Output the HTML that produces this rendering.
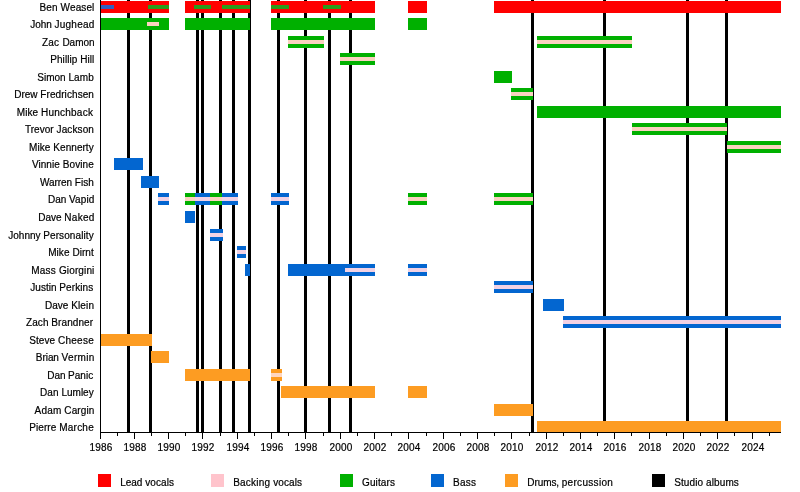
<!DOCTYPE html>
<html lang="en"><head><meta charset="utf-8"><title>Timeline</title>
<style>
html,body{margin:0;padding:0;background:#fff;}
#c{position:relative;width:800px;height:492px;overflow:hidden;background:#fff;font-family:"Liberation Sans",sans-serif;color:#000;-webkit-text-stroke:0.2px #000;}
#c div{position:absolute;}
.n{right:705.5px;font-size:10px;letter-spacing:0.12px;line-height:12px;height:12px;white-space:nowrap;text-align:right;}
.t{font-size:10px;letter-spacing:0.2px;line-height:12px;height:12px;width:40px;text-align:center;white-space:nowrap;}
.l{font-size:10px;letter-spacing:0.13px;line-height:12px;height:12px;white-space:nowrap;}
</style></head><body><div id="c">

<div style="left:127px;top:0px;width:3px;height:432px;background:#000"></div>
<div style="left:149px;top:0px;width:3px;height:432px;background:#000"></div>
<div style="left:196px;top:0px;width:3px;height:432px;background:#000"></div>
<div style="left:201px;top:0px;width:3px;height:432px;background:#000"></div>
<div style="left:219px;top:0px;width:3px;height:432px;background:#000"></div>
<div style="left:232px;top:0px;width:3px;height:432px;background:#000"></div>
<div style="left:248px;top:0px;width:3px;height:432px;background:#000"></div>
<div style="left:277px;top:0px;width:3px;height:432px;background:#000"></div>
<div style="left:304px;top:0px;width:3px;height:432px;background:#000"></div>
<div style="left:328px;top:0px;width:3px;height:432px;background:#000"></div>
<div style="left:349px;top:0px;width:3px;height:432px;background:#000"></div>
<div style="left:531px;top:0px;width:3px;height:432px;background:#000"></div>
<div style="left:603px;top:0px;width:3px;height:432px;background:#000"></div>
<div style="left:686px;top:0px;width:3px;height:432px;background:#000"></div>
<div style="left:725px;top:0px;width:3px;height:432px;background:#000"></div>
<div style="left:101px;top:1px;width:68px;height:12px;background:#ff0000"></div>
<div style="left:185px;top:1px;width:65px;height:12px;background:#ff0000"></div>
<div style="left:271px;top:1px;width:104px;height:12px;background:#ff0000"></div>
<div style="left:408px;top:1px;width:19px;height:12px;background:#ff0000"></div>
<div style="left:494px;top:1px;width:287px;height:12px;background:#ff0000"></div>
<div style="left:101px;top:18px;width:68px;height:12px;background:#00b000"></div>
<div style="left:185px;top:18px;width:65px;height:12px;background:#00b000"></div>
<div style="left:271px;top:18px;width:104px;height:12px;background:#00b000"></div>
<div style="left:408px;top:18px;width:19px;height:12px;background:#00b000"></div>
<div style="left:288px;top:36px;width:36px;height:12px;background:#00b000"></div>
<div style="left:537px;top:36px;width:95px;height:12px;background:#00b000"></div>
<div style="left:340px;top:53px;width:35px;height:12px;background:#00b000"></div>
<div style="left:494px;top:71px;width:18px;height:12px;background:#00b000"></div>
<div style="left:511px;top:88px;width:22px;height:12px;background:#00b000"></div>
<div style="left:537px;top:106px;width:244px;height:12px;background:#00b000"></div>
<div style="left:632px;top:123px;width:95px;height:12px;background:#00b000"></div>
<div style="left:727px;top:141px;width:54px;height:12px;background:#00b000"></div>
<div style="left:114px;top:158px;width:29px;height:12px;background:#0366d0"></div>
<div style="left:141px;top:176px;width:18px;height:12px;background:#0366d0"></div>
<div style="left:158px;top:193px;width:11px;height:12px;background:#0366d0"></div>
<div style="left:185px;top:193px;width:9.5px;height:12px;background:#00b000"></div>
<div style="left:194.5px;top:193px;width:15.5px;height:12px;background:#0366d0"></div>
<div style="left:210px;top:193px;width:12px;height:12px;background:#00b000"></div>
<div style="left:222px;top:193px;width:16px;height:12px;background:#0366d0"></div>
<div style="left:271px;top:193px;width:18px;height:12px;background:#0366d0"></div>
<div style="left:408px;top:193px;width:19px;height:12px;background:#00b000"></div>
<div style="left:494px;top:193px;width:39px;height:12px;background:#00b000"></div>
<div style="left:185px;top:211px;width:10px;height:12px;background:#0366d0"></div>
<div style="left:210px;top:229px;width:13px;height:12px;background:#0366d0"></div>
<div style="left:237px;top:246px;width:9px;height:12px;background:#0366d0"></div>
<div style="left:245px;top:264px;width:5px;height:12px;background:#0366d0"></div>
<div style="left:288px;top:264px;width:87px;height:12px;background:#0366d0"></div>
<div style="left:408px;top:264px;width:19px;height:12px;background:#0366d0"></div>
<div style="left:494px;top:281px;width:39px;height:12px;background:#0366d0"></div>
<div style="left:543px;top:299px;width:21px;height:12px;background:#0366d0"></div>
<div style="left:563px;top:316px;width:218px;height:12px;background:#0366d0"></div>
<div style="left:101px;top:334px;width:51px;height:12px;background:#fd9c22"></div>
<div style="left:151px;top:351px;width:18px;height:12px;background:#fd9c22"></div>
<div style="left:185px;top:369px;width:65px;height:12px;background:#fd9c22"></div>
<div style="left:271px;top:369px;width:11px;height:12px;background:#fd9c22"></div>
<div style="left:281px;top:386px;width:94px;height:12px;background:#fd9c22"></div>
<div style="left:408px;top:386px;width:19px;height:12px;background:#fd9c22"></div>
<div style="left:494px;top:404px;width:39px;height:12px;background:#fd9c22"></div>
<div style="left:537px;top:421px;width:244px;height:12px;background:#fd9c22"></div>
<div style="left:101px;top:5.1px;width:13px;height:3.8px;background:#3060c0"></div>
<div style="left:148px;top:5.1px;width:21px;height:3.8px;background:#2a9c1c"></div>
<div style="left:194.2px;top:5.1px;width:16.4px;height:3.8px;background:#2a9c1c"></div>
<div style="left:222px;top:5.1px;width:28px;height:3.8px;background:#2a9c1c"></div>
<div style="left:271px;top:5.1px;width:18px;height:3.8px;background:#2a9c1c"></div>
<div style="left:323px;top:5.1px;width:18px;height:3.8px;background:#2a9c1c"></div>
<div style="left:147px;top:22.1px;width:12px;height:3.8px;background:#fad2c0"></div>
<div style="left:288px;top:40.1px;width:36px;height:3.8px;background:#fad2c0"></div>
<div style="left:537px;top:40.1px;width:95px;height:3.8px;background:#fad2c0"></div>
<div style="left:340px;top:57.1px;width:35px;height:3.8px;background:#fad2c0"></div>
<div style="left:511px;top:92.1px;width:22px;height:3.8px;background:#fad2c0"></div>
<div style="left:632px;top:127.1px;width:95px;height:3.8px;background:#fad2c0"></div>
<div style="left:727px;top:145.1px;width:54px;height:3.8px;background:#fad2c0"></div>
<div style="left:158px;top:197.1px;width:11px;height:3.8px;background:#f2d2e4"></div>
<div style="left:185px;top:197.1px;width:9.5px;height:3.8px;background:#fad2c0"></div>
<div style="left:194.5px;top:197.1px;width:15.5px;height:3.8px;background:#f2d2e4"></div>
<div style="left:210px;top:197.1px;width:12px;height:3.8px;background:#fad2c0"></div>
<div style="left:222px;top:197.1px;width:16px;height:3.8px;background:#f2d2e4"></div>
<div style="left:271px;top:197.1px;width:18px;height:3.8px;background:#f2d2e4"></div>
<div style="left:408px;top:197.1px;width:19px;height:3.8px;background:#fad2c0"></div>
<div style="left:494px;top:197.1px;width:39px;height:3.8px;background:#fad2c0"></div>
<div style="left:210px;top:233.1px;width:13px;height:3.8px;background:#f2d2e4"></div>
<div style="left:237px;top:250.1px;width:9px;height:3.8px;background:#f2d2e4"></div>
<div style="left:345px;top:268.1px;width:30px;height:3.8px;background:#f2d2e4"></div>
<div style="left:408px;top:268.1px;width:19px;height:3.8px;background:#f2d2e4"></div>
<div style="left:494px;top:285.1px;width:39px;height:3.8px;background:#f2d2e4"></div>
<div style="left:563px;top:320.1px;width:218px;height:3.8px;background:#f2d2e4"></div>
<div style="left:271px;top:373.1px;width:11px;height:3.8px;background:#ffd6c0"></div>
<div style="left:100px;top:0px;width:1px;height:433px;background:#000"></div>
<div style="left:100px;top:432px;width:681px;height:1px;background:#000"></div>
<div style="left:100px;top:432px;width:1px;height:7px;background:#000"></div>
<div class="t" style="left:80.95px;top:442px">1986</div>
<div style="left:117px;top:432px;width:1px;height:4px;background:#000"></div>
<div style="left:134px;top:432px;width:1px;height:7px;background:#000"></div>
<div class="t" style="left:114.95px;top:442px">1988</div>
<div style="left:151px;top:432px;width:1px;height:4px;background:#000"></div>
<div style="left:168px;top:432px;width:1px;height:7px;background:#000"></div>
<div class="t" style="left:148.95px;top:442px">1990</div>
<div style="left:185px;top:432px;width:1px;height:4px;background:#000"></div>
<div style="left:202px;top:432px;width:1px;height:7px;background:#000"></div>
<div class="t" style="left:182.95px;top:442px">1992</div>
<div style="left:220px;top:432px;width:1px;height:4px;background:#000"></div>
<div style="left:237px;top:432px;width:1px;height:7px;background:#000"></div>
<div class="t" style="left:217.95px;top:442px">1994</div>
<div style="left:254px;top:432px;width:1px;height:4px;background:#000"></div>
<div style="left:271px;top:432px;width:1px;height:7px;background:#000"></div>
<div class="t" style="left:251.95px;top:442px">1996</div>
<div style="left:288px;top:432px;width:1px;height:4px;background:#000"></div>
<div style="left:305px;top:432px;width:1px;height:7px;background:#000"></div>
<div class="t" style="left:285.95px;top:442px">1998</div>
<div style="left:323px;top:432px;width:1px;height:4px;background:#000"></div>
<div style="left:340px;top:432px;width:1px;height:7px;background:#000"></div>
<div class="t" style="left:320.95px;top:442px">2000</div>
<div style="left:357px;top:432px;width:1px;height:4px;background:#000"></div>
<div style="left:374px;top:432px;width:1px;height:7px;background:#000"></div>
<div class="t" style="left:354.95px;top:442px">2002</div>
<div style="left:391px;top:432px;width:1px;height:4px;background:#000"></div>
<div style="left:408px;top:432px;width:1px;height:7px;background:#000"></div>
<div class="t" style="left:388.95px;top:442px">2004</div>
<div style="left:426px;top:432px;width:1px;height:4px;background:#000"></div>
<div style="left:443px;top:432px;width:1px;height:7px;background:#000"></div>
<div class="t" style="left:423.95px;top:442px">2006</div>
<div style="left:460px;top:432px;width:1px;height:4px;background:#000"></div>
<div style="left:477px;top:432px;width:1px;height:7px;background:#000"></div>
<div class="t" style="left:457.95px;top:442px">2008</div>
<div style="left:494px;top:432px;width:1px;height:4px;background:#000"></div>
<div style="left:511px;top:432px;width:1px;height:7px;background:#000"></div>
<div class="t" style="left:491.95px;top:442px">2010</div>
<div style="left:529px;top:432px;width:1px;height:4px;background:#000"></div>
<div style="left:546px;top:432px;width:1px;height:7px;background:#000"></div>
<div class="t" style="left:526.95px;top:442px">2012</div>
<div style="left:563px;top:432px;width:1px;height:4px;background:#000"></div>
<div style="left:580px;top:432px;width:1px;height:7px;background:#000"></div>
<div class="t" style="left:560.95px;top:442px">2014</div>
<div style="left:597px;top:432px;width:1px;height:4px;background:#000"></div>
<div style="left:614px;top:432px;width:1px;height:7px;background:#000"></div>
<div class="t" style="left:594.95px;top:442px">2016</div>
<div style="left:631px;top:432px;width:1px;height:4px;background:#000"></div>
<div style="left:649px;top:432px;width:1px;height:7px;background:#000"></div>
<div class="t" style="left:629.95px;top:442px">2018</div>
<div style="left:666px;top:432px;width:1px;height:4px;background:#000"></div>
<div style="left:683px;top:432px;width:1px;height:7px;background:#000"></div>
<div class="t" style="left:663.95px;top:442px">2020</div>
<div style="left:700px;top:432px;width:1px;height:4px;background:#000"></div>
<div style="left:717px;top:432px;width:1px;height:7px;background:#000"></div>
<div class="t" style="left:697.95px;top:442px">2022</div>
<div style="left:734px;top:432px;width:1px;height:4px;background:#000"></div>
<div style="left:752px;top:432px;width:1px;height:7px;background:#000"></div>
<div class="t" style="left:732.95px;top:442px">2024</div>
<div style="left:769px;top:432px;width:1px;height:4px;background:#000"></div>
<div class="n" style="top:1.5px;right:705.56px;letter-spacing:0.121px">Ben <span style="letter-spacing:0.115px">Weasel</span></div>
<div class="n" style="top:18.5px;right:705.46px;letter-spacing:-0.056px">John <span style="letter-spacing:0.238px">Jughead</span></div>
<div class="n" style="top:36.5px;right:705.46px;letter-spacing:0.27px">Zac <span style="letter-spacing:-0.02px">Damon</span></div>
<div class="n" style="top:53.5px;right:705.62px;letter-spacing:0.08px">Phillip <span style="letter-spacing:0.051px">Hill</span></div>
<div class="n" style="top:71.5px;right:706.22px;letter-spacing:-0.001px">Simon <span style="letter-spacing:0.079px">Lamb</span></div>
<div class="n" style="top:88.5px;right:706px;letter-spacing:-0.009px">Drew <span style="letter-spacing:0.077px">Fredrichsen</span></div>
<div class="n" style="top:106.5px;right:706.88px;letter-spacing:0.058px">Mike <span style="letter-spacing:0.233px">Hunchback</span></div>
<div class="n" style="top:123.5px;right:705.95px;letter-spacing:0.037px">Trevor <span style="letter-spacing:0.121px">Jackson</span></div>
<div class="n" style="top:141.5px;right:706.28px;letter-spacing:0.083px">Mike <span style="letter-spacing:0.045px">Kennerty</span></div>
<div class="n" style="top:158.5px;right:706.2px;letter-spacing:0.073px">Vinnie <span style="letter-spacing:0.073px">Bovine</span></div>
<div class="n" style="top:176.5px;right:705.97px;letter-spacing:-0.063px">Warren <span style="letter-spacing:0.097px">Fish</span></div>
<div class="n" style="top:193.5px;right:705.57px;letter-spacing:-0.049px">Dan <span style="letter-spacing:0.127px">Vapid</span></div>
<div class="n" style="top:211.5px;right:705.42px;letter-spacing:-0.011px">Dave <span style="letter-spacing:0.276px">Naked</span></div>
<div class="n" style="top:229.5px;right:706.23px;letter-spacing:-0.007px">Johnny <span style="letter-spacing:0.095px">Personality</span></div>
<div class="n" style="top:246.5px;right:706.24px;letter-spacing:0.083px">Mike <span style="letter-spacing:0.035px">Dirnt</span></div>
<div class="n" style="top:264.5px;right:705.54px;letter-spacing:0.221px">Mass <span style="letter-spacing:0.133px">Giorgini</span></div>
<div class="n" style="top:281.5px;right:706.63px;letter-spacing:0.005px">Justin <span style="letter-spacing:0.111px">Perkins</span></div>
<div class="n" style="top:299.5px;right:705.95px;letter-spacing:0.015px">Dave <span style="letter-spacing:0.118px">Klein</span></div>
<div class="n" style="top:316.5px;right:706.85px;letter-spacing:0.036px">Zach <span style="letter-spacing:0.087px">Brandner</span></div>
<div class="n" style="top:334.5px;right:706.04px;letter-spacing:0.094px">Steve <span style="letter-spacing:0.24px">Cheese</span></div>
<div class="n" style="top:351.5px;right:705.38px;letter-spacing:-0.068px">Brian <span style="letter-spacing:0.319px">Vermin</span></div>
<div class="n" style="top:369.5px;right:706.82px;letter-spacing:-0.086px">Dan <span style="letter-spacing:0.02px">Panic</span></div>
<div class="n" style="top:386.5px;right:706.31px;letter-spacing:0.04px">Dan <span style="letter-spacing:0.009px">Lumley</span></div>
<div class="n" style="top:404.5px;right:705.59px;letter-spacing:0.167px">Adam <span style="letter-spacing:0.099px">Cargin</span></div>
<div class="n" style="top:421.5px;right:706.05px;letter-spacing:0.075px">Pierre <span style="letter-spacing:0.225px">Marche</span></div>
<div style="left:97.5px;top:474px;width:13px;height:13px;background:#ff0000"></div>
<div class="l" style="top:477px;left:120.13px;letter-spacing:0.012px">Lead <span style="letter-spacing:0.11px">vocals</span></div>
<div style="left:211px;top:474px;width:13px;height:13px;background:#ffc4cc"></div>
<div class="l" style="top:477px;left:233.23px;letter-spacing:0.204px">Backing <span style="letter-spacing:0.09px">vocals</span></div>
<div style="left:340px;top:474px;width:13px;height:13px;background:#00b000"></div>
<div class="l" style="top:477px;left:362.05px;letter-spacing:0.105px">Guitars</div>
<div style="left:431px;top:474px;width:13px;height:13px;background:#0366d0"></div>
<div class="l" style="top:477px;left:453.03px;letter-spacing:0.217px">Bass</div>
<div style="left:505px;top:474px;width:13px;height:13px;background:#fd9c22"></div>
<div class="l" style="top:477px;left:527.33px;letter-spacing:-0.089px">Drums, <span style="letter-spacing:0.309px">percussion</span></div>
<div style="left:652px;top:474px;width:13px;height:13px;background:#000"></div>
<div class="l" style="top:477px;left:674.2px;letter-spacing:0.107px">Studio <span style="letter-spacing:0.1px">albums</span></div>
</div></body></html>
